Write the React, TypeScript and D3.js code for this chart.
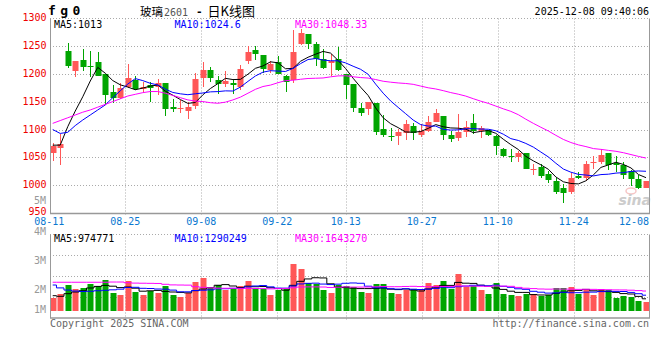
import React from "react";
import * as d3 from "d3";

// ---------- data ----------
const dates = [
  "08-11","08-12","08-13","08-14","08-15","08-18","08-19","08-20","08-21","08-22",
  "08-25","08-26","08-27","08-28","08-29","09-01","09-02","09-03","09-04","09-05",
  "09-08","09-09","09-10","09-11","09-12","09-15","09-16","09-17","09-18","09-19",
  "09-22","09-23","09-24","09-25","09-26","09-29","09-30","10-09","10-10","10-13",
  "10-14","10-15","10-16","10-17","10-20","10-21","10-22","10-23","10-24","10-27",
  "10-28","10-29","10-30","10-31","11-03","11-04","11-05","11-06","11-07","11-10",
  "11-11","11-12","11-13","11-14","11-17","11-18","11-19","11-20","11-21","11-24",
  "11-25","11-26","11-27","11-28","12-01","12-02","12-03","12-04","12-05","12-08",
];

const openP = [
  1058,1067,1240,1205,1225,1214,1220,1199,1167,1156,
  1176,1189,1172,1179,1177,1183,1140,1137,1134,1142,
  1192,1206,1189,1182,1183,1177,1222,1242,1233,1206,
  1221,1196,1189,1253,1271,1253,1226,1219,1226,1199,
  1181,1138,1136,1148,1101,1089,1089,1094,1106,1090,
  1097,1114,1124,1091,1085,1095,1111,1098,1100,1089,
  1066,1052,1050,1058,1028,1032,1020,1008,995,989,
  1017,1013,1041,1042,1058,1040,1036,1026,1011,995,
];
const highP = [
  1075,1092,1254,1223,1244,1240,1238,1200,1179,1183,
  1217,1195,1185,1185,1190,1184,1154,1153,1149,1201,
  1220,1212,1195,1204,1188,1216,1250,1249,1234,1223,
  1231,1197,1279,1280,1271,1256,1245,1235,1247,1200,
  1182,1148,1149,1148,1126,1102,1101,1117,1112,1110,
  1124,1137,1124,1098,1127,1116,1127,1106,1100,1090,
  1067,1065,1062,1058,1038,1038,1025,1014,1002,1023,
  1024,1043,1053,1066,1058,1052,1041,1027,1018,1008,
];
const lowP = [
  1044,1037,1211,1194,1204,1194,1195,1144,1147,1155,
  1175,1171,1166,1149,1162,1124,1132,1130,1119,1137,
  1176,1185,1164,1176,1164,1171,1217,1224,1202,1202,
  1199,1168,1184,1252,1244,1213,1209,1196,1204,1154,
  1132,1124,1126,1090,1086,1079,1073,1081,1082,1086,
  1095,1113,1082,1077,1079,1087,1092,1084,1089,1055,
  1051,1042,1041,1030,1019,1013,1004,985,968,985,
  1011,1007,1029,1038,1027,1024,1011,999,993,995,
];
const closeP = [
  1071,1074,1214,1222,1212,1212,1196,1162,1156,1174,
  1192,1172,1177,1174,1183,1137,1136,1138,1140,1191,
  1206,1192,1182,1187,1180,1208,1238,1235,1208,1217,
  1199,1185,1238,1272,1253,1226,1210,1223,1207,1180,
  1139,1130,1149,1096,1091,1086,1095,1110,1094,1097,
  1114,1129,1091,1083,1095,1105,1098,1102,1091,1070,
  1052,1050,1058,1030,1029,1017,1010,989,987,1014,
  1013,1038,1042,1054,1036,1037,1018,1011,995,1008,
];
const volume = [
  1083000,1392000,2142000,1808000,1892000,2225000,2058000,2558000,1475000,1308000,
  2475000,1558000,1308000,1642000,1475000,2058000,1308000,1142000,1450000,2392000,
  2725000,1892000,2142000,1725000,1808000,2083000,2475000,1892000,1808000,1308000,
  1725000,1808000,3917000,3475000,2308000,2225000,1725000,1475000,2142000,2058000,
  1975000,1558000,1475000,2225000,2225000,1475000,1392000,1725000,1808000,1808000,
  2308000,2142000,2475000,1808000,3058000,1975000,2058000,1725000,1392000,2308000,
  1392000,1308000,1225000,1392000,1392000,1225000,1308000,1892000,1892000,1975000,
  1392000,1725000,1308000,1808000,1725000,1058000,1225000,1142000,808000,725000,
];

// moving-average values before the window is full (they depend on earlier days)
const ma5Early = [1072, 1072, 1105, 1133];
const ma10Early = [1100, 1093, 1095, 1107, 1117, 1126, 1135, 1144, 1157];
const ma30Early = [
  1111,1116,1121,1126,1131,1135,1140,1145,1150,1155,
  1160,1163,1166,1168,1168,1165,1161,1157,1153,1151,
  1150,1148,1147,1149,1153,1158,1165,1172,1177,
];
const volMa5Early = [1250000, 1200000, 1417000, 1558000];
const volMa10Early = [2140000,1900000,1720000,1640000,1600000,1620000,1660000,1700000,1740000];
const volMa30Early = [
  2370000,2370000,2370000,2370000,2370000,2370000,2370000,2370000,2390000,2390000,
  2330000,2300000,2290000,2280000,2270000,2200000,2150000,2140000,2130000,2000000,
  1950000,1900000,1880000,1870000,1870000,1860000,1860000,1850000,1840000,
];

const dateTicks = ["08-11","08-25","09-08","09-22","10-13","10-27","11-10","11-24","12-08"];
const priceTicks = [1300, 1250, 1200, 1150, 1100, 1050, 1000, 950];
const volTickLabels = ["5M", "4M", "3M", "2M", "1M"];
const volTickSteps = [5, 4, 3, 2, 1];

const maLabels = ["MA5:1013", "MA10:1024.6", "MA30:1048.33"];
const volMaLabels = ["MA5:974771", "MA10:1290249", "MA30:1643270"];
const maColors = ["#000000", "#0000ff", "#ff00ff"];

const symbolText = "fg0";
const titleName = "玻璃";
const titleCode = "2601";
const titleSuffix = "日K线图";
const stamp = "2025-12-08 09:40:06";
const copyright = "Copyright 2025 SINA.COM";
const site = "http://finance.sina.com.cn";

// ---------- helpers ----------
function movingAvg(values: number[], n: number, early: number[]) {
  return values.map((_, i) =>
    i < n - 1 ? early[i] : (d3.mean(values.slice(i - n + 1, i + 1)) as number)
  );
}

const UP = "#ff5757";
const DOWN = "#00a500";
const GRID = "#aaaaaa";
const BORDER = "#999999";
const MONO = "'DejaVu Sans Mono', 'Liberation Mono', monospace";

export default function App() {
  const L = 50, R = 649.5, T = 18.5, B = 213.5;
  const VT = 234.5, VB = 318;
  const n = dates.length;

  const xC = d3.scaleLinear().domain([0, n - 1]).range([52.7, 646]);
  const xG = d3.scaleLinear().domain([0, n - 1]).range([49.3, 649.7]);
  const yP = d3.scaleLinear().domain([950, 1300]).range([213.3, 17.8]);
  const yV = d3.scaleLinear().domain([0, 1000000]).range([310.7, 298.7]);
  const yVLabel = d3.scaleLinear().domain([1, 2, 3, 4, 5]).range([310, 290, 260.7, 231.5, 200.7]);
  const yVGrid = d3.scaleLinear().domain([0, 4]).range([317.3, 234.5]);

  const ma5 = movingAvg(closeP, 5, ma5Early);
  const ma10 = movingAvg(closeP, 10, ma10Early);
  const ma30 = movingAvg(closeP, 30, ma30Early);
  const vma5 = movingAvg(volume, 5, volMa5Early);
  const vma10 = movingAvg(volume, 10, volMa10Early);
  const vma30 = movingAvg(volume, 30, volMa30Early);

  const priceLine = d3.line<number>().x((_, i) => xC(i)).y((v) => yP(v));
  const volLine = d3.line<number>().x((_, i) => xC(i)).y((v) => yV(v)).curve(d3.curveStep);

  const tickIdx = dateTicks.map((t) => dates.indexOf(t));
  const bw = 6;

  return (
    <svg width={660} height={360} style={{ position: "absolute", left: 0, top: 0, background: "#fff" }}>
      {/* header */}
      <text y={14.5} fontFamily={MONO} fontWeight="bold" fontSize={13} fill="#000">
        {symbolText.split("").map((c, i) => (
          <tspan key={i} x={48 + i * 12.3}>{c}</tspan>
        ))}
      </text>
      <text y={15.5} fontSize={13} fontFamily="'Noto Sans CJK SC', sans-serif" fill="#000">
        <tspan x={140} fontSize={11.5}>{titleName}</tspan>
        <tspan x={164} fontFamily={MONO} fontSize={10} fill="#555">{titleCode}</tspan>
        <tspan x={196} y={14.5} fontFamily={MONO} fontSize={11} fontWeight="bold">-</tspan>
        <tspan x={207.5} y={15.5}>{titleSuffix}</tspan>
      </text>
      <text x={649} y={12} textAnchor="end" dominantBaseline="middle" fontFamily={MONO} fontSize={10} fill="#000">
        {stamp}
      </text>

      {/* main grid */}
      {priceTicks.slice(1, -1).map((p) => (
        <line key={p} x1={L} x2={R} y1={Math.round(yP(p)) + 0.5} y2={Math.round(yP(p)) + 0.5}
          stroke={GRID} strokeDasharray="1,2" />
      ))}
      <line x1={L} x2={R} y1={T} y2={T} stroke={GRID} strokeDasharray="1,2" />
      {tickIdx.slice(1, -1).map((i) => (
        <g key={i}>
          <line x1={Math.round(xG(i)) + 0.5} x2={Math.round(xG(i)) + 0.5} y1={T} y2={B + 2}
            stroke={GRID} strokeDasharray="1,2" />
          <line x1={Math.round(xG(i)) + 0.5} x2={Math.round(xG(i)) + 0.5} y1={VT} y2={VB + 3}
            stroke={GRID} strokeDasharray="1,2" />
        </g>
      ))}

      {/* candles */}
      {dates.map((d, i) => {
        const cx = Math.round(xC(i));
        const up = closeP[i] >= openP[i];
        const col = up ? UP : DOWN;
        const yTop = Math.round(yP(Math.max(openP[i], closeP[i])));
        const yBot = Math.round(yP(Math.min(openP[i], closeP[i])));
        return (
          <g key={d}>
            <line x1={cx + 0.5} x2={cx + 0.5} y1={Math.round(yP(highP[i]))} y2={Math.round(yP(lowP[i]))}
              stroke={col} strokeWidth={1} />
            <rect x={cx - bw / 2 + 0.5} y={yTop} width={bw} height={Math.max(1, yBot - yTop)} fill={col} />
          </g>
        );
      })}

      {/* MA lines */}
      {[ma5, ma10, ma30].map((m, k) => (
        <path key={k} d={priceLine(m) as string} fill="none" stroke={maColors[k]} strokeWidth={1} />
      ))}

      {/* watermark */}
      <ellipse cx={631} cy={191} rx={5} ry={3} fill="none" stroke="#f0a0a0" strokeWidth={1.5} opacity={0.6} />
      <text x={651} y={205} textAnchor="end" fontFamily="'DejaVu Sans', sans-serif" fontStyle="italic"
        fontWeight="bold" fontSize={14} fill="#cccccc">sina</text>

      {/* main borders */}
      <line x1={L + 0.5} x2={L + 0.5} y1={T} y2={B} stroke={BORDER} />
      <line x1={R} x2={R} y1={T} y2={B} stroke={BORDER} />
      <line x1={L} x2={R + 0.5} y1={B} y2={B} stroke={BORDER} strokeWidth={1.5} />

      {/* MA labels */}
      {maLabels.map((t, k) => (
        <text key={t} x={54 + k * 120.5} y={24.5} dominantBaseline="middle" fontFamily={MONO} fontSize={10}
          fill={maColors[k]}>{t}</text>
      ))}

      {/* price axis labels */}
      {priceTicks.map((p) => (
        <text key={p} x={46.5} y={yP(p) - (p === 950 ? 1.5 : 0)} textAnchor="end" dominantBaseline="middle"
          fontFamily={MONO} fontSize={10} fill="#ee0000">{p}</text>
      ))}

      {/* date labels */}
      {tickIdx.map((i, k) => (
        <text key={i} x={k === tickIdx.length - 1 ? 649 : xG(i)} y={221.5}
          textAnchor={k === tickIdx.length - 1 ? "end" : "middle"} dominantBaseline="middle"
          fontFamily={MONO} fontSize={10} fill="#0a78d0">{dateTicks[k]}</text>
      ))}

      {/* volume grid */}
      {[1, 2, 3].map((g) => (
        <line key={g} x1={L} x2={R} y1={Math.round(yVGrid(g)) + 0.5} y2={Math.round(yVGrid(g)) + 0.5}
          stroke={GRID} strokeDasharray="1,2" />
      ))}
      <line x1={L} x2={R} y1={VT} y2={VT} stroke={GRID} strokeDasharray="1,2" />

      {/* volume bars */}
      {dates.map((d, i) => {
        const cx = Math.round(xC(i));
        const up = closeP[i] >= openP[i];
        const yt = Math.round(yV(volume[i]));
        return (
          <rect key={d} x={cx - bw / 2 + 0.5} y={yt} width={bw} height={Math.round(yV(0)) - yt}
            fill={up ? UP : DOWN} />
        );
      })}

      {[vma5, vma10, vma30].map((m, k) => (
        <path key={k} d={volLine(m) as string} fill="none" stroke={maColors[k]} strokeWidth={1} />
      ))}

      <line x1={L + 0.5} x2={L + 0.5} y1={VT} y2={VB} stroke={BORDER} />
      <line x1={R} x2={R} y1={VT} y2={VB} stroke={BORDER} />
      <line x1={L} x2={R + 0.5} y1={VB} y2={VB} stroke={BORDER} strokeWidth={1.5} />

      {volMaLabels.map((t, k) => (
        <text key={t} x={54 + k * 120.5} y={239} dominantBaseline="middle" fontFamily={MONO} fontSize={10}
          fill={maColors[k]}>{t}</text>
      ))}

      {volTickLabels.map((t, k) => (
        <text key={t} x={46} y={yVLabel(volTickSteps[k])} textAnchor="end" dominantBaseline="middle"
          fontFamily={MONO} fontSize={10} fill="#999999">{t}</text>
      ))}

      <text x={50} y={324} dominantBaseline="middle" fontFamily={MONO} fontSize={10} fill="#666">{copyright}</text>
      <text x={649} y={324} textAnchor="end" dominantBaseline="middle" fontFamily={MONO} fontSize={10} fill="#666">
        {site}
      </text>
    </svg>
  );
}
